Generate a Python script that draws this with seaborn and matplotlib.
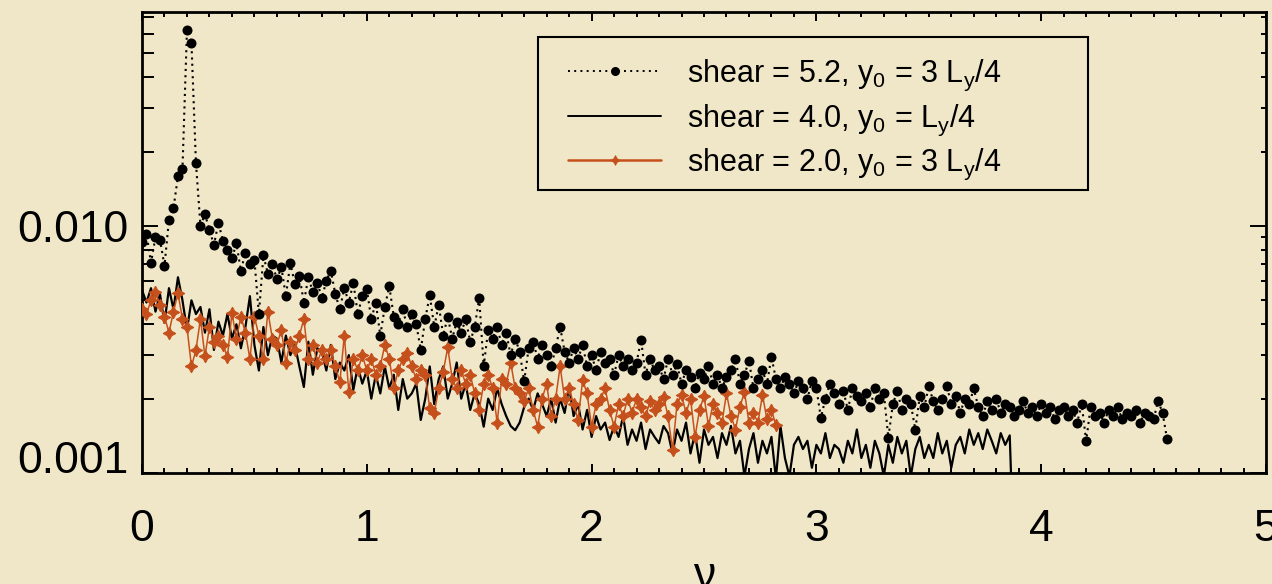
import numpy as np
import pandas as pd
import matplotlib
matplotlib.use("Agg")
import matplotlib.pyplot as plt
from matplotlib.ticker import MultipleLocator, LogLocator, FixedLocator, FixedFormatter, NullFormatter
from matplotlib.lines import Line2D
from matplotlib.patches import Rectangle
import seaborn as sns

# ---------------- data (values in units of 1e-3, sampled every NU_STEP in nu) -------------
NU_STEP = 0.02
SCALE = 1e-3

shear52_vals = [
    8.6, 9.3, 7.1, 9.0, 8.8,
    6.9, 10.6, 11.8, 15.9, 17.0,
    62.0, 55.0, 18.0, 10.0, 11.2,
    9.6, 8.4, 10.3, 8.7, 8.0,
    7.4, 8.5, 6.6, 7.8, 7.0,
    7.3, 4.4, 7.6, 6.4, 7.0,
    6.1, 6.8, 5.2, 7.1, 5.8,
    6.3, 4.9, 6.2, 5.4, 5.9,
    5.1, 6.0, 6.6, 5.3, 4.6,
    5.6, 4.9, 5.9, 4.4, 5.2,
    5.55, 4.2, 4.9, 3.6, 4.7,
    5.7, 4.3, 4.0, 4.6, 3.9,
    4.4, 4.0, 3.15, 4.2, 5.25,
    3.9, 4.8, 3.6, 4.3, 3.5,
    4.1, 3.7, 4.2, 3.4, 3.9,
    5.1, 2.7, 3.8, 3.5, 3.9,
    3.3, 3.7, 3.0, 3.5, 3.1,
    2.35, 3.2, 3.4, 2.9, 3.3,
    3.0, 2.7, 3.2, 3.9, 3.1,
    2.8, 3.2, 2.9, 3.3, 2.7,
    3.0, 2.6, 3.1, 2.8, 2.9,
    2.5, 3.0, 2.7, 2.9, 2.6,
    2.8, 3.45, 2.5, 2.9, 2.6,
    2.7, 2.4, 2.9, 2.5, 2.75,
    2.3, 2.6, 2.45, 2.2, 2.55,
    2.4, 2.7, 2.3, 2.5, 2.2,
    2.45, 2.6, 2.9, 2.3, 2.5,
    2.85, 2.2, 2.4, 2.6, 2.3,
    2.95, 2.4, 2.2, 2.45, 2.3,
    2.1, 2.35, 2.2, 2.0, 2.36,
    2.2, 1.67, 2.0, 2.3, 2.1,
    1.9, 2.15, 1.8, 2.2, 2.05,
    1.95, 2.1, 1.85, 2.2, 2.0,
    2.1, 1.39, 1.9, 2.15, 1.8,
    2.0, 1.9, 1.5, 2.05, 1.85,
    2.25, 1.95, 1.8, 2.0, 2.25,
    1.9, 2.05, 1.75, 2.0, 1.9,
    2.2, 1.85, 1.7, 1.95, 1.8,
    2.0, 1.75, 1.9, 1.85, 1.7,
    1.8, 1.95, 1.75, 1.85, 1.7,
    1.9, 1.75, 1.85, 1.65, 1.8,
    1.85, 1.7, 1.8, 1.6, 1.9,
    1.35, 1.85, 1.7, 1.75, 1.6,
    1.8, 1.7, 1.85, 1.65, 1.75,
    1.7, 1.8, 1.6, 1.75, 1.7,
    1.65, 1.96, 1.75, 1.37,
]

shear40_vals = [
    5.5, 4.9, 5.6, 4.5, 5.3,
    4.05, 5.6, 4.6, 6.2, 5.0,
    3.8, 5.0, 4.4, 4.7, 3.7,
    4.6, 3.15, 4.1, 3.6, 4.4,
    3.5, 4.0, 3.2, 3.9, 5.2,
    3.3, 2.6, 3.9, 3.0, 3.6,
    3.5, 2.8, 3.6, 3.0, 3.3,
    2.7, 2.23, 3.4, 2.5, 3.2,
    3.1, 2.6, 3.3, 2.4, 2.8,
    2.6, 3.0, 2.17, 2.7, 2.3,
    2.6, 2.0, 2.5, 2.1, 2.7,
    2.2, 2.5, 1.8, 2.4, 2.0,
    2.1, 2.3, 1.64, 2.0, 2.7,
    1.9, 2.4, 2.7, 2.0, 2.3,
    2.8, 2.0, 2.3, 1.8, 2.1,
    1.9, 1.54, 2.0, 1.8, 2.2,
    1.9, 1.7, 1.55, 1.49, 1.6,
    1.85, 2.0, 1.8, 2.1, 1.9,
    1.7, 2.0, 1.6, 2.0, 1.75,
    2.23, 1.7, 1.9, 1.5, 1.8,
    1.4, 1.7, 1.5, 1.6, 1.36,
    1.55, 1.4, 1.7, 1.3, 1.5,
    1.35, 1.6, 1.25, 1.5, 1.4,
    1.32, 1.55, 1.45, 1.2, 1.5,
    1.35, 1.6, 1.2, 1.45, 1.1,
    1.5, 1.3, 1.4, 1.15, 1.45,
    1.3, 1.55, 1.2, 1.35, 0.97,
    1.25, 1.45, 1.1, 1.35, 1.2,
    1.4, 0.95, 1.55, 1.15, 0.97,
    1.3, 1.4, 1.25, 1.35, 1.05,
    1.3, 1.2, 1.45, 1.15, 1.3,
    1.25, 1.1, 1.35, 1.2, 1.5,
    1.15, 1.3, 1.05, 1.35, 1.2,
    0.97, 1.3, 1.1, 1.4, 1.2,
    1.35, 0.97, 1.25, 1.4, 1.15,
    1.3, 1.15, 1.45, 1.2, 1.35,
    1.05, 1.3, 1.4, 1.2, 1.5,
    1.3, 1.45, 1.25, 1.5, 1.35,
    1.2, 1.45, 1.3, 1.42, 0.4,
]

shear20_vals = [
    4.6, 4.4, 5.0, 5.4, 4.8,
    4.3, 3.7, 4.5, 5.35, 4.2,
    3.9, 2.7, 3.15, 4.2, 2.97,
    3.9, 3.4, 3.6, 3.3, 2.95,
    4.45, 3.5, 4.3, 3.7, 2.9,
    4.3, 3.6, 2.9, 4.5, 3.5,
    3.3, 3.8, 2.8, 3.4, 3.15,
    3.6, 4.2, 2.9, 3.3, 2.8,
    3.15, 2.9, 3.15, 2.7, 2.33,
    3.6, 2.13, 2.9, 2.6, 3.0,
    2.6, 2.9, 2.5, 2.7, 3.3,
    2.9, 2.2, 2.6, 2.9, 3.06,
    2.7, 2.4, 2.6, 2.5, 1.83,
    1.75, 2.2, 2.56, 3.23, 2.4,
    2.2, 2.6, 2.3, 2.5, 2.1,
    1.8, 2.3, 2.5, 2.2, 1.6,
    2.4, 2.3, 2.8, 2.2, 2.1,
    1.95, 2.2, 1.8, 1.54, 2.0,
    2.3, 1.7, 2.0, 2.7, 2.0,
    2.2, 1.9, 1.64, 2.37, 2.1,
    1.54, 1.9, 2.0, 2.2, 1.8,
    1.54, 1.9, 1.7, 2.0, 1.75,
    2.0, 1.85, 1.7, 1.95, 1.8,
    1.9, 2.03, 1.7, 1.24, 1.9,
    2.07, 1.75, 2.0, 1.4, 1.8,
    2.05, 1.55, 1.9, 1.75, 1.6,
    2.1, 1.7, 1.5, 1.85, 2.13,
    1.6, 1.75, 1.6, 2.07, 1.65,
    1.8, 1.56,
]

series_labels = [
    r"shear = 5.2, $\mathregular{y_0}$ = 3 $\mathregular{L_y}$/4",
    r"shear = 4.0, $\mathregular{y_0}$ = $\mathregular{L_y}$/4",
    r"shear = 2.0, $\mathregular{y_0}$ = 3 $\mathregular{L_y}$/4",
]
x_ticks = [0, 1, 2, 3, 4, 5]
x_tick_labels = ["0", "1", "2", "3", "4", "5"]
y_ticks = [0.001, 0.010]
y_tick_labels = ["0.001", "0.010"]
x_label = "ν"


def make_df(vals):
    v = np.asarray(vals) * SCALE
    return pd.DataFrame({"nu": np.arange(len(v)) * NU_STEP, "power": v})


df52 = make_df(shear52_vals)
df40 = make_df(shear40_vals)
df20 = make_df(shear20_vals)

# ---------------- style ----------------
sns.set_theme(style="ticks")
plt.rcParams["font.family"] = ["Liberation Sans", "DejaVu Sans"]
plt.rcParams["mathtext.default"] = "regular"
BG = "#F0E7C8"
ORANGE = "#C5501C"

W, H = 1272, 584
fig = plt.figure(figsize=(W / 100, H / 100), dpi=100, facecolor=BG)
ax = fig.add_axes([142 / W, 1 - 473 / H, 1124 / W, 461 / H])
ax.set_facecolor(BG)

sns.lineplot(data=df40, x="nu", y="power", ax=ax, color="black", lw=1.6,
             estimator=None, sort=False, zorder=2)
sns.lineplot(data=df20, x="nu", y="power", ax=ax, color=ORANGE, lw=1.1,
             marker=(4, 1, 0), markersize=9, markeredgewidth=0.8,
             markeredgecolor=ORANGE, estimator=None, sort=False, zorder=3)
sns.lineplot(data=df52, x="nu", y="power", ax=ax, color="black", lw=1.5,
             linestyle=(0, (1, 2.0)), marker="o", markersize=7.2,
             markeredgewidth=0, estimator=None, sort=False, zorder=4)

ax.set_yscale("log")
ax.set_xlim(0, 5)
ax.set_ylim(0.001, 0.0735)

ax.xaxis.set_major_locator(FixedLocator(x_ticks))
ax.xaxis.set_major_formatter(FixedFormatter(x_tick_labels))
ax.xaxis.set_minor_locator(MultipleLocator(0.1))
ax.yaxis.set_major_locator(FixedLocator(y_ticks))
ax.yaxis.set_major_formatter(FixedFormatter(y_tick_labels))
ax.yaxis.set_minor_locator(LogLocator(base=10, subs=np.arange(2, 10), numticks=20))
ax.yaxis.set_minor_formatter(NullFormatter())

ax.tick_params(axis="x", which="both", direction="in", top=True, bottom=True,
               labelsize=32, pad=26, width=1.4, color="black", labelcolor="black")
ax.tick_params(axis="x", which="major", length=6.5)
ax.tick_params(axis="x", which="minor", length=3.6)
ax.tick_params(axis="y", which="both", direction="in", left=True, right=False,
               labelsize=32, pad=10, width=1.4, color="black", labelcolor="black")
ax.tick_params(axis="y", which="major", length=11.5)
ax.tick_params(axis="y", which="minor", length=8.6)

for s in ax.spines.values():
    s.set_visible(True)
    s.set_linewidth(2.0)
    s.set_color("black")

ax.set_xlabel(x_label, fontsize=32, labelpad=4, color="black")
ax.set_ylabel("")

# right side ticks (shorter minor ticks)
ax2 = ax.twinx()
ax2.set_yscale("log")
ax2.set_ylim(ax.get_ylim())
ax2.yaxis.set_major_locator(FixedLocator(y_ticks))
ax2.yaxis.set_minor_locator(LogLocator(base=10, subs=np.arange(2, 10), numticks=20))
ax2.yaxis.set_major_formatter(NullFormatter())
ax2.yaxis.set_minor_formatter(NullFormatter())
ax2.tick_params(axis="y", which="both", direction="in", right=True, width=1.4, color="black")
ax2.tick_params(axis="y", which="major", length=11.5)
ax2.tick_params(axis="y", which="minor", length=3.6)
for s in ax2.spines.values():
    s.set_visible(False)

# 0.001 label sits on its baseline
fig.canvas.draw()
for t in ax.yaxis.get_major_ticks():
    if t.label1.get_text() == "0.001":
        t.label1.set_verticalalignment("baseline")

# legend frame (pixel box 538..1088 x 37..190)
frame = Rectangle((538 / W, 1 - 190 / H), (1088 - 538) / W, (190 - 37) / H,
                  transform=fig.transFigure, facecolor="none", edgecolor="black",
                  lw=1.5, zorder=10)
fig.add_artist(frame)

handles = [
    Line2D([], [], color="black", lw=1.4, linestyle=(0, (1, 2.2)), marker="o",
           markersize=6.5, markeredgewidth=0),
    Line2D([], [], color="black", lw=1.4),
    Line2D([], [], color=ORANGE, lw=1.8, marker=(4, 1, 0), markersize=7,
           markeredgewidth=0.6, markeredgecolor=ORANGE),
]
leg = ax2.legend(handles, series_labels, loc="upper left",
                 bbox_to_anchor=(568 / W, 1 - 58 / H), bbox_transform=fig.transFigure,
                 fontsize=22, frameon=False, numpoints=1,
                 handlelength=3.05, handletextpad=0.85, labelspacing=0.3,
                 borderpad=0, borderaxespad=0)
for txt in leg.get_texts():
    txt.set_color("black")

fig.savefig("out.png", dpi=100, facecolor=BG)
